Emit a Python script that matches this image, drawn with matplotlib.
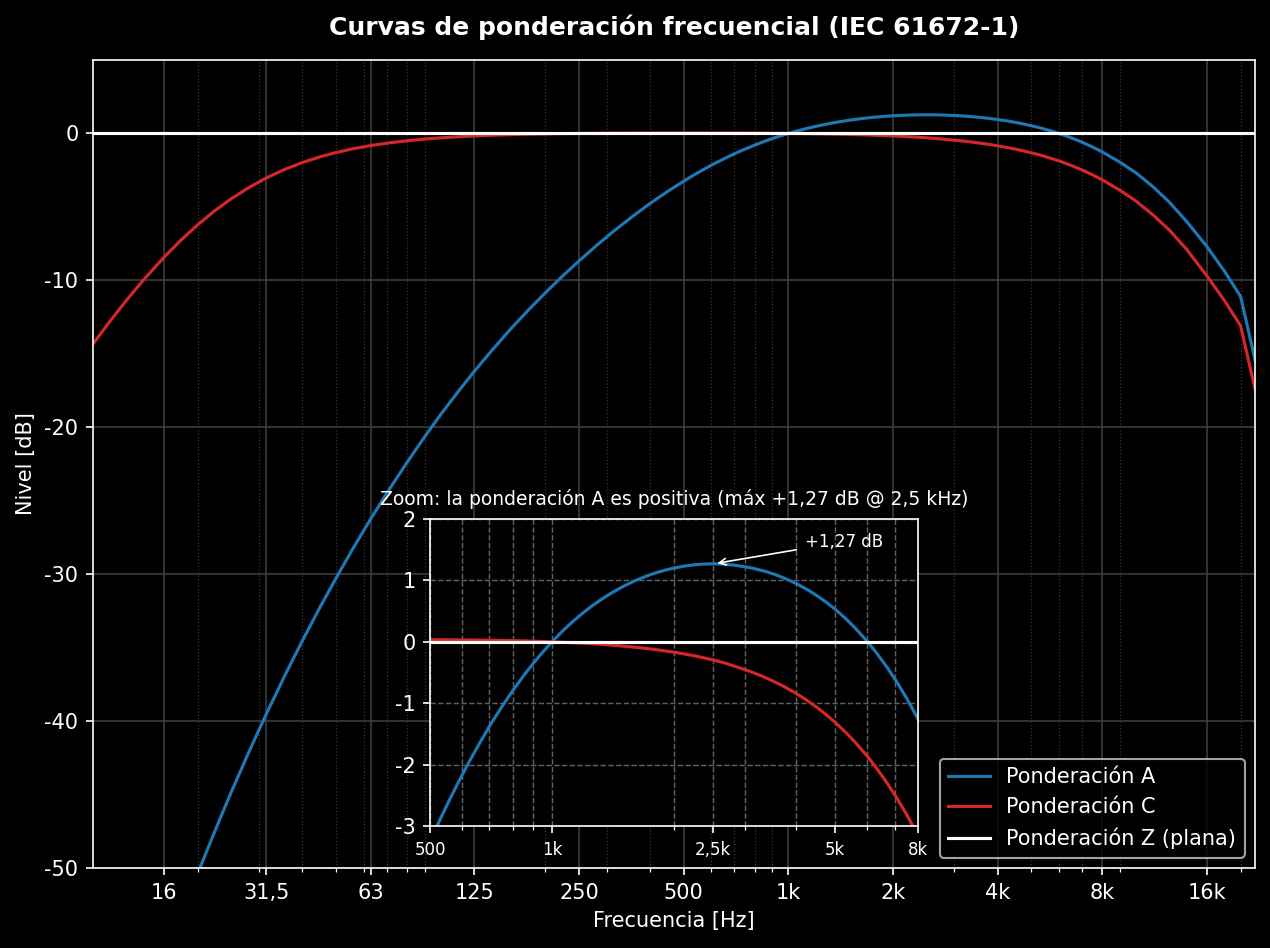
import numpy as np
import matplotlib.pyplot as plt
from matplotlib.ticker import LogLocator, NullFormatter

# Frecuencias (Hz) y niveles (dB)
freq = [10, 11.2, 12.5, 14, 16, 18, 20, 22.4, 25, 28, 31.5, 35.5, 40, 45, 50, 56,
        63, 71, 80, 90, 100, 112, 125, 140, 160, 180, 200, 224, 250, 280, 315, 355,
        400, 450,
        500, 530, 560, 595, 630, 670, 710, 750, 800, 850, 900, 950, 1000, 1060, 1120,
        1180, 1250, 1320, 1400, 1500, 1600, 1700, 1800, 1900, 2000, 2120, 2240, 2360,
        2500, 2650, 2800, 3000, 3150, 3350, 3550, 3750, 4000, 4250, 4500, 4750, 5000,
        5300, 5600, 6000, 6300, 6700, 7100, 7500, 8000,
        9000, 10000, 11200, 12500, 14000, 16000, 18000, 20000, 22000]

a_db = [-70.43, -66.92, -63.59, -60.24, -56.43, -53.19, -50.39, -47.51, -44.82, -42.17,
        -39.53, -36.98, -34.54, -32.24, -30.28, -28.24, -26.22, -24.26, -22.40, -20.64,
        -19.14, -17.61, -16.19, -14.80, -13.24, -11.95, -10.85, -9.72, -8.68, -7.65,
        -6.64, -5.68, -4.77, -3.94,
        -3.25, -2.886, -2.559, -2.216, -1.909, -1.595, -1.316, -1.068, -0.795, -0.556,
        -0.347, -0.162, 0.0, 0.171, 0.318, 0.447, 0.576, 0.687, 0.794, 0.904,
        0.993, 1.065, 1.122, 1.167, 1.202, 1.233, 1.254, 1.266, 1.271, 1.267,
        1.250, 1.222, 1.194, 1.149, 1.096, 1.035, 0.950, 0.856, 0.753, 0.644,
        0.528, 0.380, 0.223, 0.004, -0.170, -0.410, -0.661, -0.921, -1.257,
        -1.96, -2.68, -3.63, -4.70, -6.0, -7.7, -9.4, -11.1, -15.4]

c_db = [-14.33, -12.77, -11.34, -9.95, -8.43, -7.21, -6.22, -5.26, -4.44, -3.70, -3.03,
        -2.46, -1.98, -1.59, -1.30, -1.04, -0.82, -0.64, -0.50, -0.38, -0.30, -0.23,
        -0.17, -0.12, -0.08, -0.05, -0.03, -0.01, 0.0, 0.01, 0.019, 0.025, 0.030, 0.032,
        0.033, 0.0325, 0.032, 0.031, 0.0295, 0.0276, 0.0253, 0.0226, 0.0189, 0.0148,
        0.0102, 0.0053, 0.0001, -0.0067, -0.0139, -0.0217, -0.0312, -0.0413, -0.0536,
        -0.0701, -0.0877, -0.1065, -0.1263, -0.1474, -0.1695, -0.1975, -0.227, -0.2581,
        -0.2962, -0.3393, -0.390, -0.455, -0.507, -0.578, -0.655, -0.734, -0.840,
        -0.950, -1.067, -1.188, -1.315, -1.473, -1.638, -1.867, -2.047, -2.295, -2.551,
        -2.816, -3.157,
        -3.87, -4.6, -5.55, -6.6, -7.9, -9.7, -11.4, -13.1, -17.4]

z_db = [0.0] * len(freq)

main_ticks = [16, 31.5, 63, 125, 250, 500, 1000, 2000, 4000, 8000, 16000]
main_labels = ["16", "31,5", "63", "125", "250", "500", "1k", "2k", "4k", "8k", "16k"]
zoom_ticks = [500, 1000, 2500, 5000, 8000]
zoom_labels = ["500", "1k", "2,5k", "5k", "8k"]

plt.style.use("dark_background")
plt.rcParams["axes.unicode_minus"] = False
fig = plt.figure(figsize=(1270 / 150, 948 / 150), dpi=150)

# Gráfica principal
ax = fig.add_axes([0.0732, 0.0844, 0.915, 0.8523])
ax.semilogx(freq, a_db, color="#1f77b4", lw=1.5, label="Ponderación A")
ax.semilogx(freq, c_db, color="#d62728", lw=1.5, label="Ponderación C")
ax.semilogx(freq, z_db, color="white", lw=1.5, label="Ponderación Z (plana)")

ax.set_xlim(10, 22000)
ax.set_ylim(-50, 5)
ax.set_xticks(main_ticks)
ax.set_xticklabels(main_labels)
ax.xaxis.set_minor_locator(LogLocator(base=10, subs=np.arange(2, 10)))
ax.xaxis.set_minor_formatter(NullFormatter())
ax.set_yticks([0, -10, -20, -30, -40, -50])
ax.grid(True, which="major", color="#3c3c3c", lw=0.8)
ax.grid(True, which="minor", axis="x", color="#353535", lw=0.6, ls=":")
ax.tick_params(labelsize=10)

ax.set_xlabel("Frecuencia [Hz]", fontsize=10)
ax.set_ylabel("Nivel [dB]", fontsize=10)
ax.set_title("Curvas de ponderación frecuencial (IEC 61672-1)",
             fontsize=12, fontweight="bold", pad=12)
ax.legend(loc="lower right", fontsize=10)

# Zoom
axin = fig.add_axes([0.3386, 0.1287, 0.3843, 0.3238])
axin.set_facecolor("black")
axin.semilogx(freq, a_db, color="#1f77b4", lw=1.5)
axin.semilogx(freq, c_db, color="#d62728", lw=1.5)
axin.semilogx(freq, z_db, color="white", lw=1.5)
axin.set_xlim(500, 8000)
axin.set_ylim(-3, 2)
axin.set_xticks(zoom_ticks)
axin.set_xticklabels(zoom_labels, fontsize=8)
axin.xaxis.set_minor_locator(LogLocator(base=10, subs=np.arange(2, 10)))
axin.xaxis.set_minor_formatter(NullFormatter())
axin.set_yticks([-3, -2, -1, 0, 1, 2])
axin.tick_params(axis="y", labelsize=10)
axin.grid(True, which="both", ls="--", color="#606060", lw=0.7)
axin.set_title("Zoom: la ponderación A es positiva (máx +1,27 dB @ 2,5 kHz)",
               fontsize=9, pad=6.5)
axin.annotate("+1,27 dB", xy=(2500, 1.27), xytext=(4200, 1.63), color="white",
              fontsize=8, va="center",
              arrowprops=dict(arrowstyle="->", color="white", lw=0.8))

fig.savefig("out.png", dpi=150, facecolor="black")
